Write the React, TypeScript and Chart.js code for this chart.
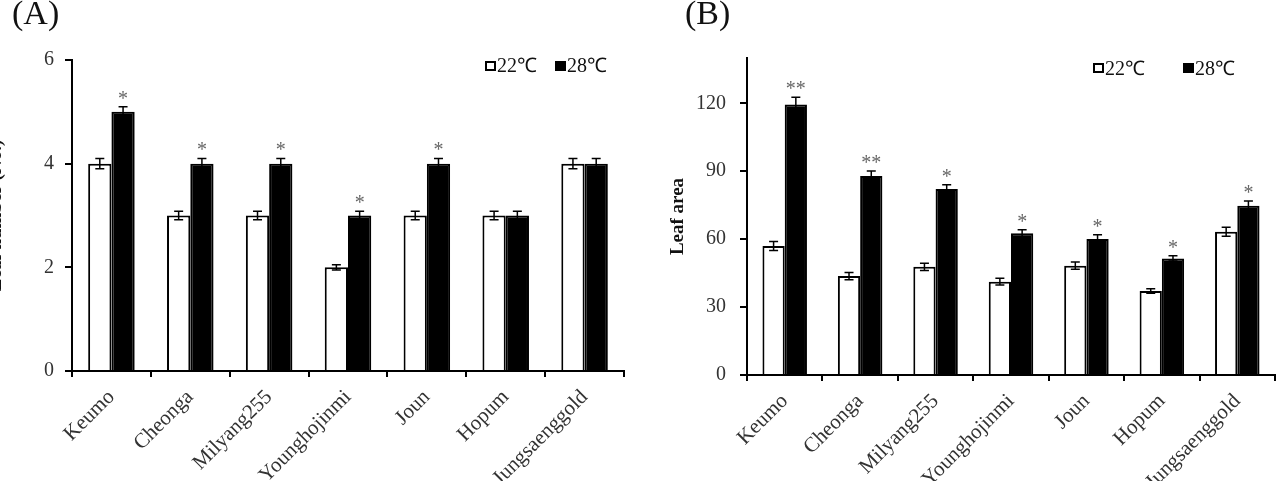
import { useEffect, useRef } from "react";
import { Chart, registerables } from "chart.js";

Chart.register(...registerables);

// Cultivars and temperature treatments
const cultivars = ["Keumo", "Cheonga", "Milyang255", "Younghojinmi", "Joun", "Hopum", "Jungsaenggold"];
const seriesLabels = ["22℃", "28℃"];

// (A) leaf number
const leafNumber22 = [4, 3, 3, 2, 3, 3, 4];
const leafNumber28 = [5, 4, 4, 3, 4, 3, 4];
const leafNumberErr22 = [0.1, 0.08, 0.08, 0.05, 0.08, 0.08, 0.1];
const leafNumberErr28 = [0.1, 0.1, 0.1, 0.08, 0.1, 0.08, 0.1];
const leafNumberSig = ["*", "*", "*", "*", "*", "", ""];
const leafNumberTicks = [0, 2, 4, 6];

// (B) leaf area
const leafArea22 = [57.0, 43.7, 47.8, 41.2, 48.3, 37.1, 63.3];
const leafArea28 = [119.5, 87.9, 82.2, 62.6, 60.1, 51.5, 74.8];
const leafAreaErr22 = [2, 1.6, 1.6, 1.5, 1.6, 1, 2];
const leafAreaErr28 = [3.2, 2.2, 1.8, 1.6, 1.8, 1.2, 2.1];
const leafAreaSig = ["**", "**", "*", "*", "*", "*", "*"];
const leafAreaTicks = [0, 30, 60, 90, 120];

const SERIF = '"Liberation Serif", "Times New Roman", serif';

type PanelSpec = {
  letter: string;
  letterX: number;
  yTitle: string;
  yTitleX: number;
  yTitleBaseline: CanvasTextBaseline;
  left: number;
  width: number;
  padTop: number;
  padRight: number;
  yWidth: number;
  xHeight: number;
  yMax: number;
  yStep: number;
  yTicks: number[];
  yLabelPad: number;
  low: number[];
  high: number[];
  errs: number[][];
  sig: string[];
  legendX: number[];
  legendBoxY: number;
  legendBaseline: number;
};

const panelA: PanelSpec = {
  letter: "(A)",
  letterX: 12,
  yTitle: "Leaf number (No.)",
  yTitleX: 1,
  yTitleBaseline: "alphabetic",
  left: 0,
  width: 640,
  padTop: 60,
  padRight: 16,
  yWidth: 72,
  xHeight: 110,
  yMax: 6,
  yStep: 2,
  yTicks: leafNumberTicks,
  yLabelPad: 11,
  low: leafNumber22,
  high: leafNumber28,
  errs: [leafNumberErr22, leafNumberErr28],
  sig: leafNumberSig,
  legendX: [485, 555],
  legendBoxY: 61,
  legendBaseline: 72,
};

const panelB: PanelSpec = {
  letter: "(B)",
  letterX: 45,
  yTitle: "Leaf area",
  yTitleX: 38,
  yTitleBaseline: "middle",
  left: 640,
  width: 638,
  padTop: 58,
  padRight: 3,
  yWidth: 107,
  xHeight: 106,
  yMax: 140,
  yStep: 10,
  yTicks: leafAreaTicks,
  yLabelPad: 14,
  low: leafArea22,
  high: leafArea28,
  errs: [leafAreaErr22, leafAreaErr28],
  sig: leafAreaSig,
  legendX: [453, 543],
  legendBoxY: 63,
  legendBaseline: 75,
};

function decorations(spec: PanelSpec) {
  return {
    id: "panelDecor",
    afterDatasetsDraw(chart: any) {
      const ctx: CanvasRenderingContext2D = chart.ctx;
      const y = chart.scales.y;
      ctx.save();
      // error bars
      ctx.strokeStyle = "#000";
      ctx.lineWidth = 1.5;
      for (let d = 0; d < 2; d++) {
        const values = chart.data.datasets[d].data as number[];
        chart.getDatasetMeta(d).data.forEach((bar: any, i: number) => {
          const v = values[i];
          const e = spec.errs[d][i];
          const yt = y.getPixelForValue(v + e);
          const yb = y.getPixelForValue(v - e);
          const x = bar.x;
          ctx.beginPath();
          ctx.moveTo(x, yt);
          ctx.lineTo(x, yb);
          ctx.moveTo(x - 4.5, yt);
          ctx.lineTo(x + 4.5, yt);
          ctx.moveTo(x - 4.5, yb);
          ctx.lineTo(x + 4.5, yb);
          ctx.stroke();
        });
      }
      // significance marks above the 28℃ bars
      ctx.fillStyle = "#666";
      ctx.font = `20px ${SERIF}`;
      ctx.textAlign = "center";
      ctx.textBaseline = "alphabetic";
      const highs = chart.data.datasets[1].data as number[];
      chart.getDatasetMeta(1).data.forEach((bar: any, i: number) => {
        const s = spec.sig[i];
        if (!s) return;
        const yt = y.getPixelForValue(highs[i] + spec.errs[1][i]);
        ctx.fillText(s, bar.x, yt - 2);
      });
      ctx.restore();
    },
    afterDraw(chart: any) {
      const ctx: CanvasRenderingContext2D = chart.ctx;
      const area = chart.chartArea;
      ctx.save();
      // panel letter
      ctx.fillStyle = "#111";
      ctx.font = `34px ${SERIF}`;
      ctx.textAlign = "left";
      ctx.textBaseline = "alphabetic";
      ctx.fillText(spec.letter, spec.letterX, 24);
      // y axis title
      ctx.save();
      ctx.translate(spec.yTitleX, (area.top + area.bottom) / 2);
      ctx.rotate(-Math.PI / 2);
      ctx.font = `bold 19px ${SERIF}`;
      ctx.textAlign = "center";
      ctx.textBaseline = spec.yTitleBaseline;
      ctx.fillStyle = "#111";
      ctx.fillText(spec.yTitle, 0, 0);
      ctx.restore();
      // legend
      ctx.font = `20px ${SERIF}`;
      ctx.textBaseline = "alphabetic";
      ctx.textAlign = "left";
      chart.data.datasets.forEach((ds: any, i: number) => {
        const bx = spec.legendX[i];
        const by = spec.legendBoxY;
        ctx.fillStyle = ds.backgroundColor;
        ctx.fillRect(bx, by, 11, 10);
        ctx.strokeStyle = "#000";
        ctx.lineWidth = 2;
        ctx.strokeRect(bx + 1, by + 1, 9, 8);
        ctx.fillStyle = "#111";
        ctx.fillText(ds.label, bx + 12, spec.legendBaseline);
      });
      ctx.restore();
    },
  };
}

function Panel({ spec }: { spec: PanelSpec }) {
  const ref = useRef<HTMLCanvasElement>(null);
  useEffect(() => {
    const canvas = ref.current!;
    const chart = new Chart(canvas, {
      type: "bar",
      data: {
        labels: cultivars,
        datasets: [
          {
            label: seriesLabels[0],
            data: spec.low,
            backgroundColor: "#ffffff",
            borderColor: "#000000",
            borderWidth: 2,
            categoryPercentage: 0.59,
            barPercentage: 1,
          },
          {
            label: seriesLabels[1],
            data: spec.high,
            backgroundColor: "#000000",
            borderColor: "#000000",
            borderWidth: 2,
            categoryPercentage: 0.59,
            barPercentage: 1,
          },
        ],
      },
      options: {
        responsive: false,
        animation: false,
        devicePixelRatio: 1,
        layout: { padding: { top: spec.padTop, right: spec.padRight, left: 0, bottom: 0 } },
        plugins: { legend: { display: false }, tooltip: { enabled: false } },
        scales: {
          x: {
            ticks: {
              color: "#333",
              font: { family: SERIF, size: 21 },
              minRotation: 45,
              maxRotation: 45,
              autoSkip: false,
              padding: 8,
            },
            grid: {
              drawOnChartArea: false,
              drawTicks: true,
              tickLength: 6,
              color: "#000",
              lineWidth: 2,
              offset: true,
            },
            border: { display: true, color: "#000", width: 2 },
            afterFit: (s: any) => {
              s.height = spec.xHeight;
            },
          },
          y: {
            min: 0,
            max: spec.yMax,
            ticks: {
              stepSize: spec.yStep,
              color: "#333",
              font: { family: SERIF, size: 20 },
              padding: spec.yLabelPad,
              callback: (v: any) => (spec.yTicks.includes(Number(v)) ? String(v) : null),
            },
            grid: {
              drawOnChartArea: false,
              drawTicks: true,
              tickLength: 7,
              color: "#000",
              lineWidth: 2,
            },
            border: { display: true, color: "#000", width: 2 },
            afterFit: (s: any) => {
              s.width = spec.yWidth;
            },
          },
        },
      },
      plugins: [decorations(spec)],
    } as any);
    return () => chart.destroy();
  }, [spec]);
  return (
    <canvas
      ref={ref}
      width={spec.width}
      height={481}
      style={{ position: "absolute", left: spec.left, top: 0, width: spec.width, height: 481 }}
    />
  );
}

export default function App() {
  return (
    <div
      style={{
        position: "fixed",
        left: 0,
        top: 0,
        width: 1278,
        height: 481,
        background: "#fff",
        overflow: "hidden",
      }}
    >
      <Panel spec={panelA} />
      <Panel spec={panelB} />
    </div>
  );
}
